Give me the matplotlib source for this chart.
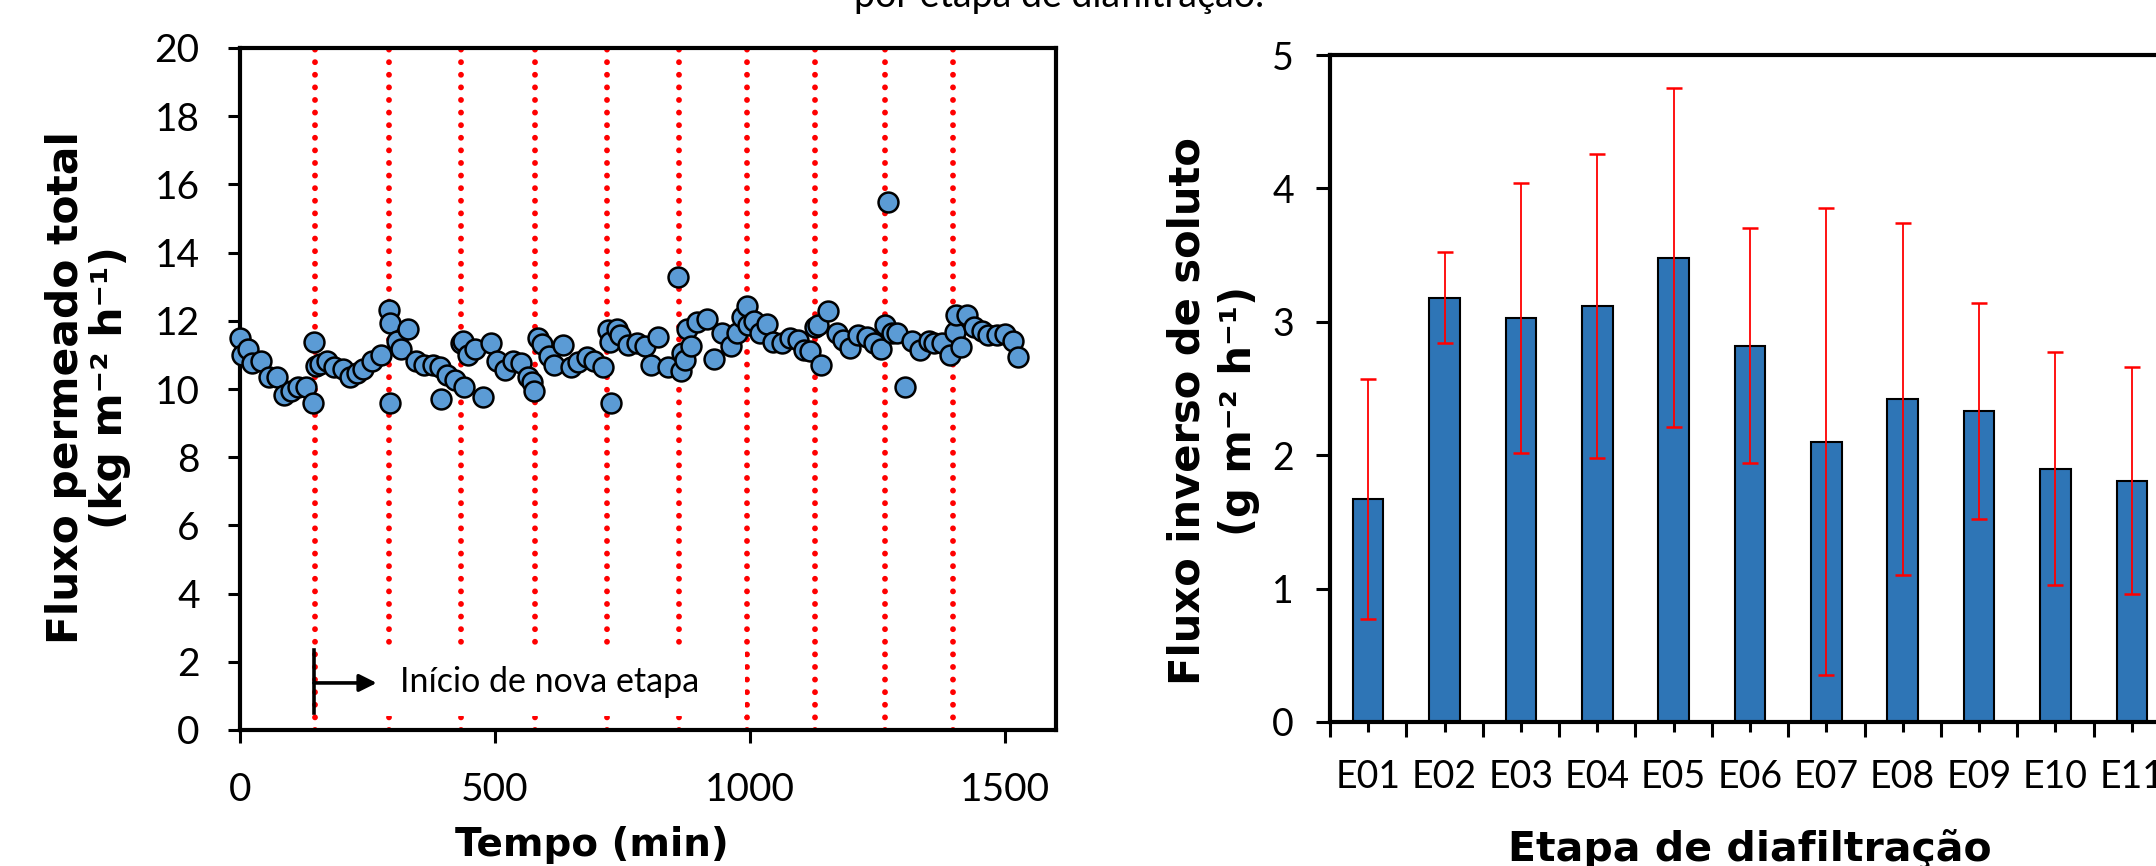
"""
Fluxo permeado total ao longo do tempo e fluxo inverso de soluto
por etapa de diafiltração.
"""
import matplotlib
matplotlib.use("Agg")
import matplotlib.pyplot as plt
from matplotlib.patches import Rectangle
from matplotlib.ticker import FixedLocator

# Fluxo permeado total (kg m-2 h-1) vs tempo (min)
tempo_min = [
    0, 3, 16, 23, 41, 56, 72, 87, 100, 113, 129, 144, 146, 149, 157, 170,
    185, 201, 216, 229, 242, 258, 276, 292, 295, 294, 307, 315, 330, 346,
    361, 378, 392, 394, 405, 422, 440, 433, 438, 448, 461, 476, 492, 503,
    520, 536, 551, 565, 572, 577, 585, 593, 605, 616, 633, 649, 663, 680,
    695, 711, 721, 725, 727, 739, 745, 761, 778, 794, 806, 820, 840, 859,
    865, 866, 873, 876, 884, 897, 915, 930, 946, 963, 974, 984, 994, 997,
    1008, 1020, 1033, 1046, 1062, 1078, 1095, 1105, 1118, 1127, 1134, 1140,
    1153, 1170, 1183, 1196, 1212, 1229, 1244, 1257, 1265, 1271, 1278, 1288,
    1303, 1318, 1333, 1350, 1361, 1377, 1392, 1401, 1403, 1414, 1425, 1440,
    1454, 1467, 1484, 1500, 1516, 1526,
]
fluxo_permeado = [
    11.49, 11.00, 11.17, 10.75, 10.82, 10.34, 10.34, 9.82, 9.95, 10.05,
    10.05, 9.58, 11.39, 10.68, 10.72, 10.82, 10.65, 10.58, 10.36, 10.48,
    10.58, 10.83, 11.00, 12.32, 11.95, 9.58, 11.41, 11.16, 11.75, 10.82,
    10.70, 10.70, 10.65, 9.70, 10.40, 10.26, 10.07, 11.36, 11.40, 11.00,
    11.17, 9.76, 11.36, 10.83, 10.56, 10.83, 10.77, 10.34, 10.21, 9.94,
    11.49, 11.32, 10.97, 10.70, 11.29, 10.64, 10.80, 10.93, 10.82, 10.65,
    11.73, 11.39, 9.58, 11.75, 11.58, 11.29, 11.36, 11.26, 10.70, 11.53,
    10.64, 13.27, 10.53, 11.05, 10.85, 11.75, 11.27, 11.97, 12.04, 10.87,
    11.65, 11.26, 11.63, 12.10, 12.43, 11.88, 12.00, 11.63, 11.91, 11.39,
    11.34, 11.49, 11.44, 11.14, 11.12, 11.83, 11.88, 10.70, 12.30, 11.65,
    11.44, 11.19, 11.58, 11.53, 11.36, 11.16, 11.88, 15.49, 11.65, 11.63,
    10.05, 11.42, 11.14, 11.42, 11.34, 11.34, 11.00, 11.68, 12.17, 11.22,
    12.17, 11.83, 11.71, 11.58, 11.58, 11.61, 11.42, 10.93,
]
inicio_etapas = [147, 292, 433, 578, 719, 860, 994, 1127, 1264, 1398]

# Fluxo inverso de soluto (g m-2 h-1) por etapa
etapas = ["E01", "E02", "E03", "E04", "E05", "E06",
          "E07", "E08", "E09", "E10", "E11"]
fluxo_inverso = [1.67, 3.18, 3.03, 3.12, 3.48, 2.82, 2.10, 2.42, 2.33, 1.90, 1.81]
desvio_inverso = [0.90, 0.34, 1.01, 1.14, 1.27, 0.88, 1.75, 1.32, 0.81, 0.87, 0.85]

TICK_FONT = "Lato"
LABEL_FONT = "DejaVu Sans"


def style_axes(ax, lw=3):
    for side in ["left", "right", "top", "bottom"]:
        ax.spines[side].set_linewidth(lw)


def main():
    fig = plt.figure(figsize=(21.56, 8.66), dpi=100)

    # --- left: fluxo permeado vs tempo ---
    ax1 = fig.add_axes([240 / 2156, 136 / 866, 816 / 2156, 682 / 866])
    for t in inicio_etapas:
        ax1.axvline(t, color="red", linestyle=(0, (0.01, 2.15)),
                    linewidth=4.2, dash_capstyle="round", zorder=1)
    ax1.add_patch(Rectangle((152, 0.4), 838, 2.1, facecolor="white",
                            edgecolor="none", zorder=2))
    ax1.scatter(tempo_min, fluxo_permeado, s=205, color="#5B9BD5",
                edgecolor="black", linewidth=1.8, zorder=3, clip_on=False)

    # legenda "Início de nova etapa"
    ax1.plot([145, 145], [0.5, 2.35], color="black", linewidth=2.6, zorder=4)
    ax1.annotate("", xy=(268, 1.38), xytext=(145, 1.38),
                 arrowprops=dict(arrowstyle="-|>", color="black", lw=2.6,
                                 mutation_scale=26, shrinkA=0, shrinkB=0),
                 zorder=4)
    ax1.text(314, 1.4, "Início de nova etapa", fontsize=24.5,
             family=TICK_FONT, va="center", ha="left", zorder=4)

    ax1.set_xlim(0, 1600)
    ax1.set_ylim(0, 20)
    ax1.set_xticks([0, 500, 1000, 1500])
    ax1.set_yticks(range(0, 21, 2))
    ax1.tick_params(axis="both", direction="out", length=9, width=2.2,
                    labelsize=28)
    ax1.tick_params(axis="x", pad=21)
    ax1.tick_params(axis="y", pad=20)
    for lab in ax1.get_xticklabels() + ax1.get_yticklabels():
        lab.set_family(TICK_FONT)
    style_axes(ax1)

    ax1.set_xlabel("Tempo (min)", fontsize=28, fontweight="bold",
                   family=LABEL_FONT, va="center")
    ax1.xaxis.set_label_coords((592 - 240) / 816, -(845 - 730) / 682)
    ax1.set_ylabel("Fluxo permeado total\n(kg m\u207b\u00b2 h\u207b\u00b9)",
                   fontsize=30.5, fontweight="bold", family=LABEL_FONT,
                   va="center", ha="center", rotation_mode="default",
                   multialignment="center", linespacing=1.05)
    ax1.yaxis.set_label_coords((88 - 240) / 816, (730 - 388) / 682)

    # --- right: fluxo inverso por etapa ---
    ax2 = fig.add_axes([1330 / 2156, 144 / 866, 840 / 2156, 667 / 866])
    x = range(len(etapas))
    ax2.bar(x, fluxo_inverso, width=0.4, color="#2E75B6",
            edgecolor="black", linewidth=1.5, zorder=2)
    ax2.errorbar(x, fluxo_inverso, yerr=desvio_inverso, fmt="none",
                 ecolor="red", elinewidth=1.3, capsize=6, capthick=1.8,
                 zorder=3)
    ax2.set_xlim(-0.5, len(etapas) - 0.5)
    ax2.set_ylim(0, 5)
    ax2.set_xticks(list(x))
    ax2.set_xticklabels(etapas)
    ax2.xaxis.set_minor_locator(
        FixedLocator([i - 0.5 for i in range(len(etapas) + 1)]))
    ax2.set_yticks(range(0, 6))
    ax2.tick_params(axis="both", which="major", direction="out",
                    width=2.2, labelsize=27)
    ax2.tick_params(axis="x", which="major", length=7, pad=20)
    ax2.tick_params(axis="x", which="minor", length=11, width=2.2)
    ax2.tick_params(axis="y", length=10, pad=16)
    for lab in ax2.get_xticklabels() + ax2.get_yticklabels():
        lab.set_family(TICK_FONT)
    style_axes(ax2)

    ax2.set_xlabel("Etapa de diafiltração", fontsize=29.5, fontweight="bold",
                   family=LABEL_FONT, va="center")
    ax2.xaxis.set_label_coords(0.5, -(850 - 722) / 667)
    ax2.set_ylabel("Fluxo inverso de soluto\n(g m\u207b\u00b2 h\u207b\u00b9)",
                   fontsize=30, fontweight="bold", family=LABEL_FONT,
                   va="center", ha="center", rotation_mode="default",
                   multialignment="center", linespacing=1.3)
    ax2.yaxis.set_label_coords((1213 - 1330) / 840, (722 - 411) / 667)

    # título (cortado no topo da imagem original)
    fig.text(1059 / 2156, 1 - 7 / 866, "por etapa de diafiltração.",
             fontsize=27, family=TICK_FONT, ha="center", va="baseline")

    fig.savefig("out.png", dpi=100)
    plt.close(fig)


if __name__ == "__main__":
    main()
